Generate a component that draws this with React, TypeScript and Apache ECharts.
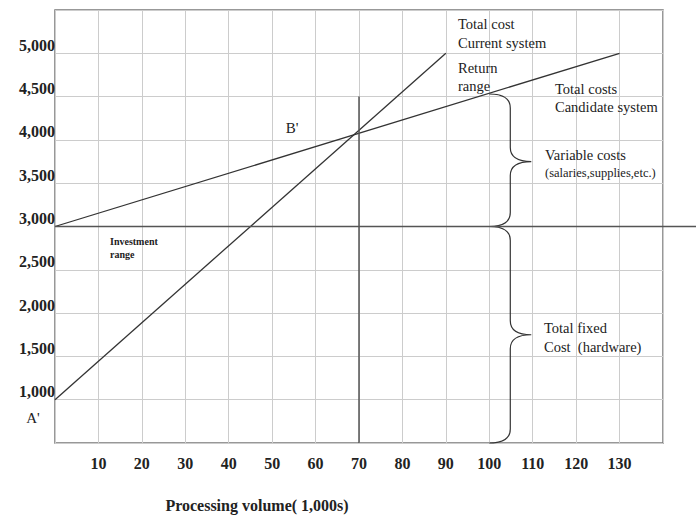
import React, { useEffect, useRef } from "react";
import * as echarts from "echarts";

const xTickLabels = [10, 20, 30, 40, 50, 60, 70, 80, 90, 100, 110, 120, 130];
const yTickLabels = [1000, 1500, 2000, 2500, 3000, 3500, 4000, 4500, 5000];
const currentSystem = [[0, 1000], [90, 5000]];
const candidateSystem = [[0, 3000], [130, 5000]];
const fixedCostLine = [[0, 3000], [140, 3000]];
const breakEvenLine = [[70, 4500], [70, 500]];
// [x, top, bottom, tip]
const braces = [
  [100, 4530, 3000, 3750],
  [100, 3000, 500, 1750],
];

const SERIF = "'Liberation Serif', 'Times New Roman', serif";
const INK = "#222";

function fmt(v: number) {
  return v.toLocaleString("en-US");
}

export default function App() {
  const ref = useRef<HTMLDivElement>(null);
  useEffect(() => {
    if (!ref.current) return;
    const chart = echarts.init(ref.current, undefined, { renderer: "svg" });
    const option: any = {
      animation: false,
      backgroundColor: "#fff",
      grid: {
        left: 55,
        right: 33,
        top: 10,
        bottom: 72,
        show: true,
        borderColor: "#777",
        borderWidth: 1.5,
        backgroundColor: "transparent",
      },
      xAxis: {
        type: "value",
        min: 0,
        max: 140,
        interval: 10,
        axisLine: { show: false },
        axisTick: { show: false },
        splitLine: { show: true, lineStyle: { color: "#ccc", width: 1 } },
        axisLabel: {
          margin: 12,
          fontFamily: SERIF,
          fontWeight: "bold",
          fontSize: 16,
          color: INK,
          formatter: (v: number) => (xTickLabels.includes(v) ? String(v) : ""),
        },
      },
      yAxis: {
        type: "value",
        min: 500,
        max: 5500,
        interval: 500,
        axisLine: { show: false },
        axisTick: { show: false },
        splitLine: { show: true, lineStyle: { color: "#ccc", width: 1 } },
        axisLabel: {
          margin: 0,
          verticalAlign: "bottom",
          fontFamily: SERIF,
          fontWeight: "bold",
          fontSize: 16,
          color: INK,
          formatter: (v: number) => (yTickLabels.includes(v) ? fmt(v) : ""),
        },
      },
      series: [
        {
          type: "line",
          data: currentSystem,
          symbol: "none",
          lineStyle: { color: "#333", width: 1.3 },
        },
        {
          type: "line",
          data: candidateSystem,
          symbol: "none",
          lineStyle: { color: "#333", width: 1.3 },
        },
        {
          type: "line",
          data: fixedCostLine,
          symbol: "none",
          lineStyle: { color: "#555", width: 1.5 },
        },
        {
          type: "line",
          data: breakEvenLine,
          symbol: "none",
          lineStyle: { color: "#555", width: 1.5 },
        },
        {
          type: "custom",
          data: braces,
          encode: { x: 0, y: 1 },
          renderItem: (_p: any, api: any) => {
            const x = api.value(0);
            const [px, pT] = api.coord([x, api.value(1)]);
            const pB = api.coord([x, api.value(2)])[1];
            const pM = api.coord([x, api.value(3)])[1];
            const w = 42;
            const h = w / 2;
            const r = 14;
            const d =
              `M${px},${pT} Q${px + h},${pT} ${px + h},${pT + r} ` +
              `L${px + h},${pM - r} Q${px + h},${pM} ${px + w},${pM} ` +
              `Q${px + h},${pM} ${px + h},${pM + r} ` +
              `L${px + h},${pB - r} Q${px + h},${pB} ${px},${pB}`;
            return {
              type: "path",
              shape: { pathData: d },
              style: { fill: "none", stroke: "#333", lineWidth: 1.2 },
            };
          },
        },
      ],
    };
    chart.setOption(option);

    const [xr, y3] = chart.convertToPixel({ gridIndex: 0 }, [140, 3000]) as number[];
    const t = (text: string, x: number, y: number, size = 14.5, bold = false, align = "left") => ({
      type: "text",
      x,
      y,
      style: {
        text,
        fill: INK,
        font: `${bold ? "bold " : ""}${size}px ${SERIF}`,
        textAlign: align,
        textVerticalAlign: "middle",
      },
    });
    chart.setOption({
      graphic: [
        {
          type: "line",
          shape: { x1: xr, y1: y3, x2: 696, y2: y3 },
          style: { stroke: "#555", lineWidth: 1.5 },
        },
        t("Total cost", 458, 24),
        t("Current system", 458, 43),
        t("Return", 458, 68),
        t("range", 458, 86),
        t("Total costs", 555, 89),
        t("Candidate system", 555, 107),
        t("Variable costs", 545, 155),
        t("(salaries,supplies,etc.)", 545, 173, 12.5),
        t("Total fixed", 544, 328),
        t("Cost  (hardware)", 544, 347),
        t("B'", 292, 128, 15, false, "center"),
        t("A'", 33, 418, 15, false, "center"),
        t("Investment", 110, 241, 10, true),
        t("range", 110, 254, 10, true),
        t("Processing volume( 1,000s)", 257, 505, 16, true, "center"),
      ],
    });
    return () => chart.dispose();
  }, []);
  return (
    <div
      ref={ref}
      style={{ position: "absolute", left: 0, top: 0, width: 696, height: 515 }}
    />
  );
}
